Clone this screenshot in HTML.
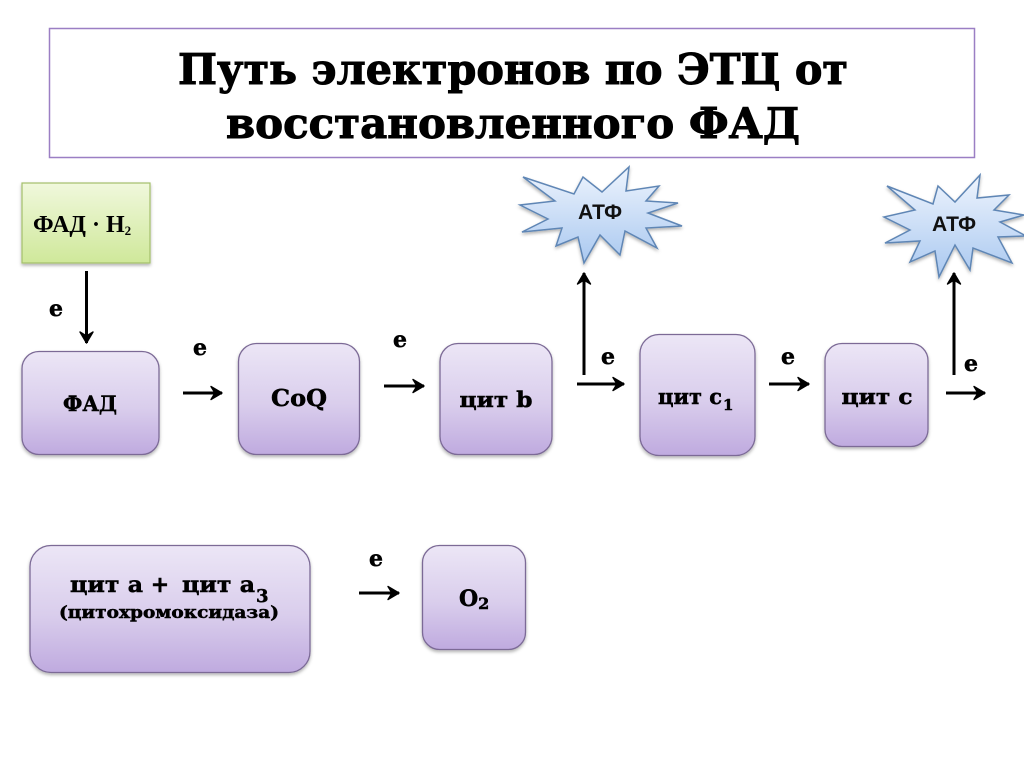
<!DOCTYPE html>
<html><head><meta charset="utf-8">
<style>html,body{margin:0;padding:0;background:#fff;width:1024px;height:767px;overflow:hidden}svg{display:block}
.s{font-family:"DejaVu Serif","Liberation Serif",serif;font-weight:bold;fill:#000;stroke:#000;stroke-width:.5px}
.t{stroke-width:1px}
.a{font-family:"Liberation Sans",sans-serif;font-weight:bold;fill:#111;font-size:21px}</style></head>
<body>
<svg width="1024" height="767" viewBox="0 0 1024 767" xmlns="http://www.w3.org/2000/svg">
<defs>
<linearGradient id="p" x1="0" y1="0" x2="0" y2="1"><stop offset="0" stop-color="#ece6f6"/><stop offset=".55" stop-color="#d9cdec"/><stop offset="1" stop-color="#bfaadf"/></linearGradient>
<linearGradient id="g" x1="0" y1="0" x2="0" y2="1"><stop offset="0" stop-color="#f0f8dc"/><stop offset="1" stop-color="#cfe89a"/></linearGradient>
<linearGradient id="b" x1="0" y1="0" x2="0" y2="1"><stop offset="0" stop-color="#eef4fd"/><stop offset="1" stop-color="#a9c8f0"/></linearGradient>
<filter id="sh" x="-10%" y="-10%" width="120%" height="125%"><feDropShadow dx="0" dy="2" stdDeviation="1.5" flood-color="#000" flood-opacity=".3"/></filter>
<marker id="m" viewBox="0 0 16 16" refX="14" refY="8" markerWidth="16" markerHeight="16" markerUnits="userSpaceOnUse" orient="auto"><path d="M3 1.5 L14 8 L3 14.5 L7 8 Z" fill="#000" stroke="#000" stroke-width="1.4" stroke-linejoin="round"/></marker>
</defs>
<rect x="49.5" y="28.5" width="925" height="129" fill="#fff" stroke="#9b7fc4" stroke-width="1.5"/>
<text class="s t" x="513" y="84" font-size="42" text-anchor="middle" textLength="670" lengthAdjust="spacingAndGlyphs">Путь электронов по ЭТЦ от</text>
<text class="s t" x="513" y="138" font-size="42" text-anchor="middle" textLength="574" lengthAdjust="spacingAndGlyphs">восстановленного ФАД</text>

<rect x="22" y="183" width="128" height="80" fill="url(#g)" stroke="#a3bf6b" stroke-width="1.2" filter="url(#sh)"/>
<text x="33" y="232" font-family="'Liberation Serif',serif" font-weight="bold" font-size="24">ФАД · Н<tspan font-size="13" dy="3">2</tspan></text>

<g fill="url(#p)" stroke="#7b6a96" stroke-width="1.3" filter="url(#sh)">
<rect x="22" y="351.5" width="137" height="103" rx="17"/>
<rect x="238.5" y="343.5" width="121" height="111" rx="18"/>
<rect x="440" y="343.5" width="112" height="111" rx="18"/>
<rect x="640" y="334.5" width="115" height="121" rx="19"/>
<rect x="825" y="343.5" width="103" height="103" rx="17"/>
<rect x="30" y="545.5" width="280" height="127" rx="21"/>
<rect x="422.5" y="545.5" width="103" height="104" rx="17"/>
</g>

<g class="s">
<text x="90" y="411" font-size="21" text-anchor="middle" textLength="54" lengthAdjust="spacingAndGlyphs">ФАД</text>
<text x="299" y="406" font-size="23" text-anchor="middle" textLength="56" lengthAdjust="spacingAndGlyphs">CoQ</text>
<text x="496" y="407" font-size="21" text-anchor="middle" textLength="73" lengthAdjust="spacingAndGlyphs">цит b</text>
<text x="658" y="404" font-size="21" textLength="64" lengthAdjust="spacingAndGlyphs">цит c</text><text x="723" y="410" font-size="15">1</text>
<text x="877" y="404" font-size="21" text-anchor="middle" textLength="71" lengthAdjust="spacingAndGlyphs">цит c</text>
<text x="70" y="592" font-size="22" textLength="73" lengthAdjust="spacingAndGlyphs">цит a</text>
<text x="160" y="592" font-size="22" text-anchor="middle">+</text>
<text x="182" y="592" font-size="22" textLength="73" lengthAdjust="spacingAndGlyphs">цит a</text>
<text x="256" y="602" font-size="18">3</text>
<text x="169" y="618" font-size="17" text-anchor="middle" textLength="220" lengthAdjust="spacingAndGlyphs">(цитохромоксидаза)</text>
<text x="459" y="606" font-size="22">O<tspan font-size="16" dy="3">2</tspan></text>
</g>

<g class="s" font-size="22" text-anchor="middle">
<text x="56" y="316">e</text><text x="200" y="355">e</text><text x="400" y="347">e</text>
<text x="608" y="364">e</text><text x="788" y="364">e</text><text x="971" y="371">e</text><text x="376" y="566">e</text>
</g>

<g stroke="#000" stroke-width="3" fill="none">
<line x1="86.5" y1="271" x2="86.5" y2="343" marker-end="url(#m)"/>
<line x1="183" y1="393" x2="222" y2="393" marker-end="url(#m)"/>
<line x1="384" y1="386" x2="424" y2="386" marker-end="url(#m)"/>
<line x1="577" y1="384" x2="624" y2="384" marker-end="url(#m)"/>
<line x1="769" y1="384" x2="809" y2="384" marker-end="url(#m)"/>
<line x1="946" y1="393" x2="985" y2="393" marker-end="url(#m)"/>
<line x1="359" y1="593" x2="399" y2="593" marker-end="url(#m)"/>
<line x1="584" y1="375" x2="584" y2="273" marker-end="url(#m)"/>
<line x1="954" y1="375" x2="954" y2="273" marker-end="url(#m)"/>
</g>

<g fill="url(#b)" stroke="#5f86b5" stroke-width="1.5" stroke-linejoin="miter" filter="url(#sh)">
<polygon points="523,177 574,194 583,177 602,192 629,167 626,191 659,186 646,201 678,203 648,213 682,226 646,228 657,248 625,231 620,255 600,235 584,263 578,237 556,246 562,228 522,232 548,219 520,205 555,201"/>
<polygon points="887,186 933,204 938,186 955,202 980,175 977,198 1009,195 994,210 1024,215 1000,222 1026,236 998,237 1012,263 973,248 970,270 955,245 939,277 935,251 910,262 920,241 885,243 910,230 884,217 915,210"/>
</g>
<text class="a" x="600" y="219" text-anchor="middle">АТФ</text>
<text class="a" x="954" y="231" text-anchor="middle">АТФ</text>
</svg>
</body></html>
